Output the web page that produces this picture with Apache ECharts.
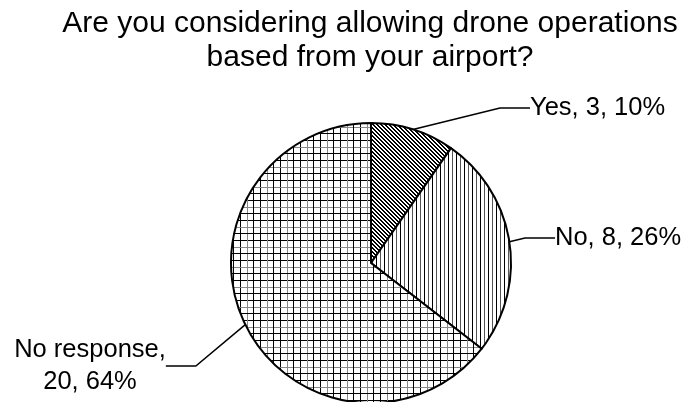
<!DOCTYPE html>
<html><head><meta charset="utf-8">
<script src="https://cdn.jsdelivr.net/npm/echarts@6/dist/echarts.min.js"></script>
<style>html,body{margin:0;padding:0;background:#fff}#c{width:681px;height:402px}</style>
</head><body><div id="c"></div>
<script>
const titleLines = ['Are you considering allowing drone operations', 'based from your airport?'];
const categories = ['Yes', 'No', 'No response'];
const counts = [3, 8, 20];
const percentLabels = ['10%', '26%', '64%'];

function makePattern(kind) {
  const c = document.createElement('canvas');
  let ctx;
  if (kind === 'diag') {
    c.width = 4; c.height = 4; ctx = c.getContext('2d');
    ctx.fillStyle = '#fff'; ctx.fillRect(0, 0, 4, 4);
    ctx.fillStyle = '#000';
    for (let y = 0; y < 4; y++) { ctx.fillRect(y, y, 1, 1); ctx.fillRect((y + 1) % 4, y, 1, 1); }
  } else if (kind === 'vert') {
    c.width = 8; c.height = 4; ctx = c.getContext('2d');
    ctx.fillStyle = '#fff'; ctx.fillRect(0, 0, 8, 4);
    ctx.fillStyle = '#000'; ctx.fillRect(0, 0, 1, 4);
    ctx.fillStyle = '#555'; ctx.fillRect(4, 0, 1, 4);
  } else {
    c.width = 20; c.height = 20; ctx = c.getContext('2d');
    ctx.fillStyle = '#fff'; ctx.fillRect(0, 0, 20, 20);
    const lines = [[0, '#000'], [7, '#888'], [13, '#000']];
    lines.forEach(([p, col]) => { ctx.fillStyle = col; ctx.fillRect(p, 0, 1, 20); ctx.fillRect(0, p, 20, 1); });
  }
  return c;
}
const patternKinds = ['diag', 'vert', 'grid'];
const labelPlacement = [
  {x: 530, y: 108, align: 'left', verticalAlign: 'middle'},
  {x: 555, y: 238, align: 'left', verticalAlign: 'middle'},
  {x: 90, y: 366, align: 'center', verticalAlign: 'middle'}
];

const chart = echarts.init(document.getElementById('c'), null, {renderer: 'canvas'});
chart.setOption({
  animation: false,
  backgroundColor: '#fff',
  title: {
    text: titleLines.join('\n'),
    left: 370, top: 7, textAlign: 'center', padding: 0,
    textStyle: {fontFamily: 'Liberation Sans', fontSize: 30, fontWeight: 'normal', color: '#000', lineHeight: 34}
  },
  series: [{
    type: 'pie',
    center: [371, 263],
    radius: 140,
    startAngle: 90,
    clockwise: true,
    silent: true,
    data: categories.map((n, i) => ({
      name: n, value: counts[i],
      itemStyle: {color: {image: makePattern(patternKinds[i]), repeat: 'repeat'}}
    })),
    itemStyle: {borderColor: '#000', borderWidth: 2},
    label: {
      show: true, overflow: 'none',
      fontFamily: 'Liberation Sans', fontSize: 25.5, color: '#000', lineHeight: 32,
      formatter: p => p.name + ',' + (p.name.length > 5 ? '\n' : ' ') + p.value + ', ' + percentLabels[p.dataIndex]
    },
    labelLine: {show: true, lineStyle: {color: '#000', width: 1.5}},
    labelLayout: p => labelPlacement[p.dataIndex],
    emphasis: {disabled: true}
  }]
});
</script></body></html>
